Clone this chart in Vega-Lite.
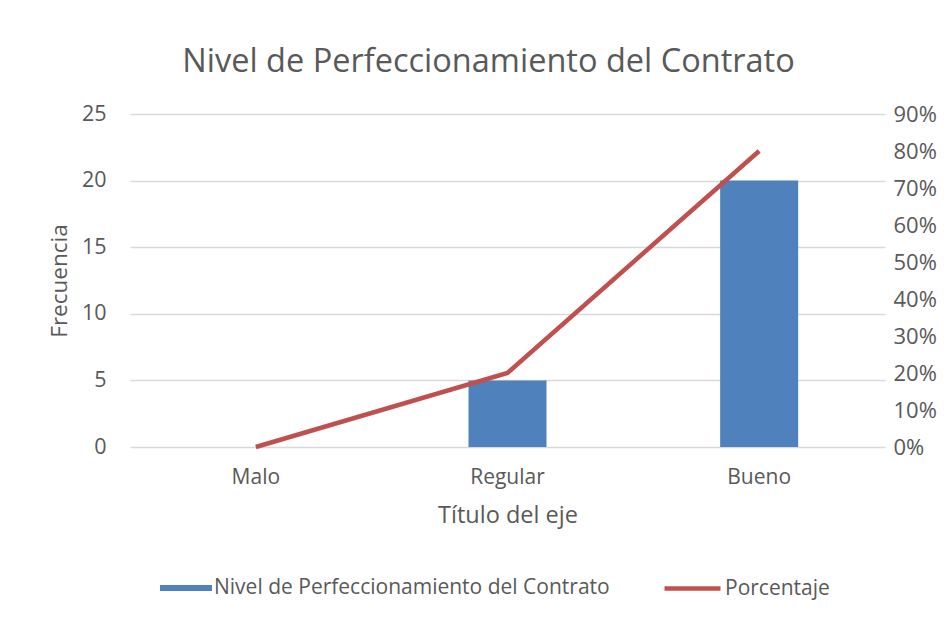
{
  "$schema": "https://vega.github.io/schema/vega-lite/v6.json",
  "width": 755,
  "height": 333,
  "autosize": {"type": "none"},
  "padding": {"left": 130, "top": 114, "right": 67, "bottom": 172},
  "background": "white",
  "config": {
    "font": "Open Sans",
    "view": {"stroke": null},
    "axis": {"labelColor": "#595959", "titleColor": "#595959", "labelFont": "Open Sans", "titleFont": "Open Sans", "titleFontWeight": "normal"}
  },
  "title": {"text": "Nivel de Perfeccionamiento del Contrato", "fontSize": 32.5, "font": "Open Sans", "fontWeight": "normal", "color": "#595959", "offset": 25, "dx": -19},
  "data": {"values": [
    {"nivel": "Malo", "frecuencia": 0, "porcentaje": 0, "serie": "Nivel de Perfeccionamiento del Contrato", "serie2": "Porcentaje"},
    {"nivel": "Regular", "frecuencia": 5, "porcentaje": 0.2, "serie": "Nivel de Perfeccionamiento del Contrato", "serie2": "Porcentaje"},
    {"nivel": "Bueno", "frecuencia": 20, "porcentaje": 0.8, "serie": "Nivel de Perfeccionamiento del Contrato", "serie2": "Porcentaje"}
  ]},
  "encoding": {
    "x": {"field": "nivel", "type": "nominal", "sort": ["Malo", "Regular", "Bueno"],
      "scale": {"paddingInner": 0, "paddingOuter": 0},
      "axis": {"title": "Título del eje", "labelAngle": 0, "labelFontSize": 21, "titleFontSize": 23.5, "ticks": false, "domain": false, "labelPadding": 19, "titlePadding": 16, "grid": false}}
  },
  "layer": [
    {
      "mark": {"type": "bar", "width": {"band": 0.31}},
      "encoding": {
        "y": {"field": "frecuencia", "type": "quantitative", "scale": {"domain": [0, 25]},
          "axis": {"title": "Frecuencia", "values": [0, 5, 10, 15, 20, 25], "labelFontSize": 21.5, "titleFontSize": 22.5, "ticks": false, "domain": false, "labelPadding": 24, "titlePadding": 10, "gridColor": "#D9D9D9", "gridWidth": 1.3}},
        "fill": {"field": "serie", "type": "nominal", "scale": {"range": ["#4F81BD"]},
          "legend": {"title": null, "orient": "none", "legendX": 30, "legendY": 448, "padding": 0, "symbolType": "M-1,-0.115H1V0.115H-1Z", "symbolSize": 2704, "symbolStrokeWidth": 0, "symbolOpacity": 1, "labelFontSize": 21, "labelColor": "#595959", "labelFont": "Open Sans", "labelOffset": 2, "labelLimit": 600}}
      }
    },
    {
      "mark": {"type": "line", "strokeWidth": 4.5},
      "encoding": {
        "y": {"field": "porcentaje", "type": "quantitative", "scale": {"domain": [0, 0.9]},
          "axis": {"title": null, "orient": "right", "format": ".0%", "values": [0, 0.1, 0.2, 0.3, 0.4, 0.5, 0.6, 0.7, 0.8, 0.9], "labelFontSize": 22, "ticks": false, "domain": false, "labelPadding": 8, "grid": false}},
        "stroke": {"field": "serie2", "type": "nominal", "scale": {"range": ["#C0504D"]},
          "legend": {"title": null, "orient": "none", "legendX": 532, "legendY": 444, "padding": 0, "symbolType": "stroke", "symbolSize": 3136, "symbolStrokeWidth": 4.5, "labelFontSize": 21, "labelColor": "#595959", "labelFont": "Open Sans", "labelOffset": 2}}
      }
    }
  ],
  "resolve": {"scale": {"y": "independent"}, "legend": {"fill": "independent", "stroke": "independent"}}
}
